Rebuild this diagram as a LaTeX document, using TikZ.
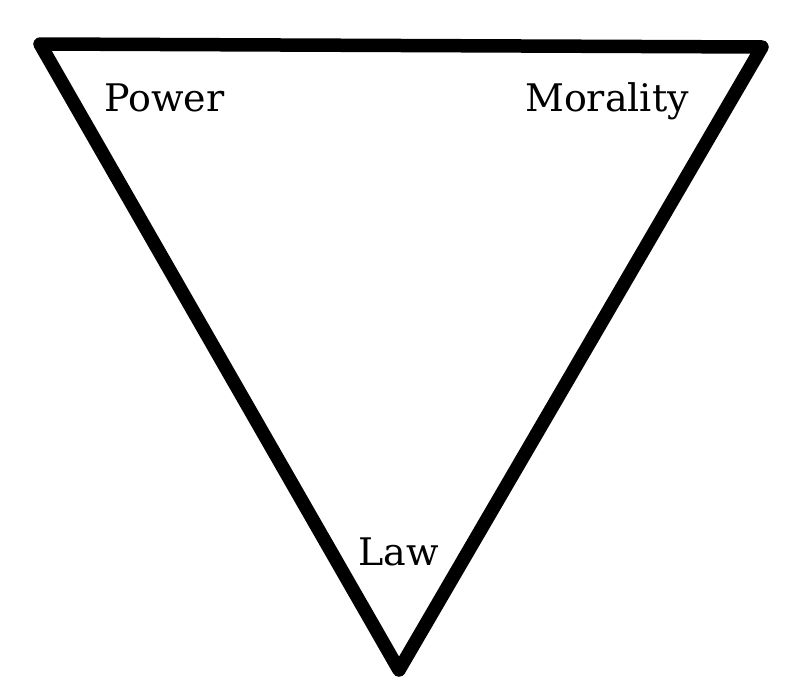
\documentclass[tikz,border=0pt]{standalone}
\usepackage{fontspec}
\setmainfont{DejaVu Serif}
\begin{document}
\begin{tikzpicture}[x=1pt,y=-1pt,
  edge/.style={line width=13.5pt,line join=round,line cap=round,black},
  lbl/.style={anchor=base west,inner sep=0pt,font=\fontsize{38}{42}\selectfont}]
\useasboundingbox (0,0) rectangle (810,696);
\coordinate (tl) at (40,44);
\coordinate (tr) at (762,47);
\coordinate (bt) at (399,670);
\draw[edge] (tl) -- (tr) -- (bt) -- cycle;
\node[lbl] (power) at (104,111) {Power};
\node[lbl] (morality) at (525,111) {Morality};
\node[lbl] (law) at (358,565) {Law};
\end{tikzpicture}
\end{document}
